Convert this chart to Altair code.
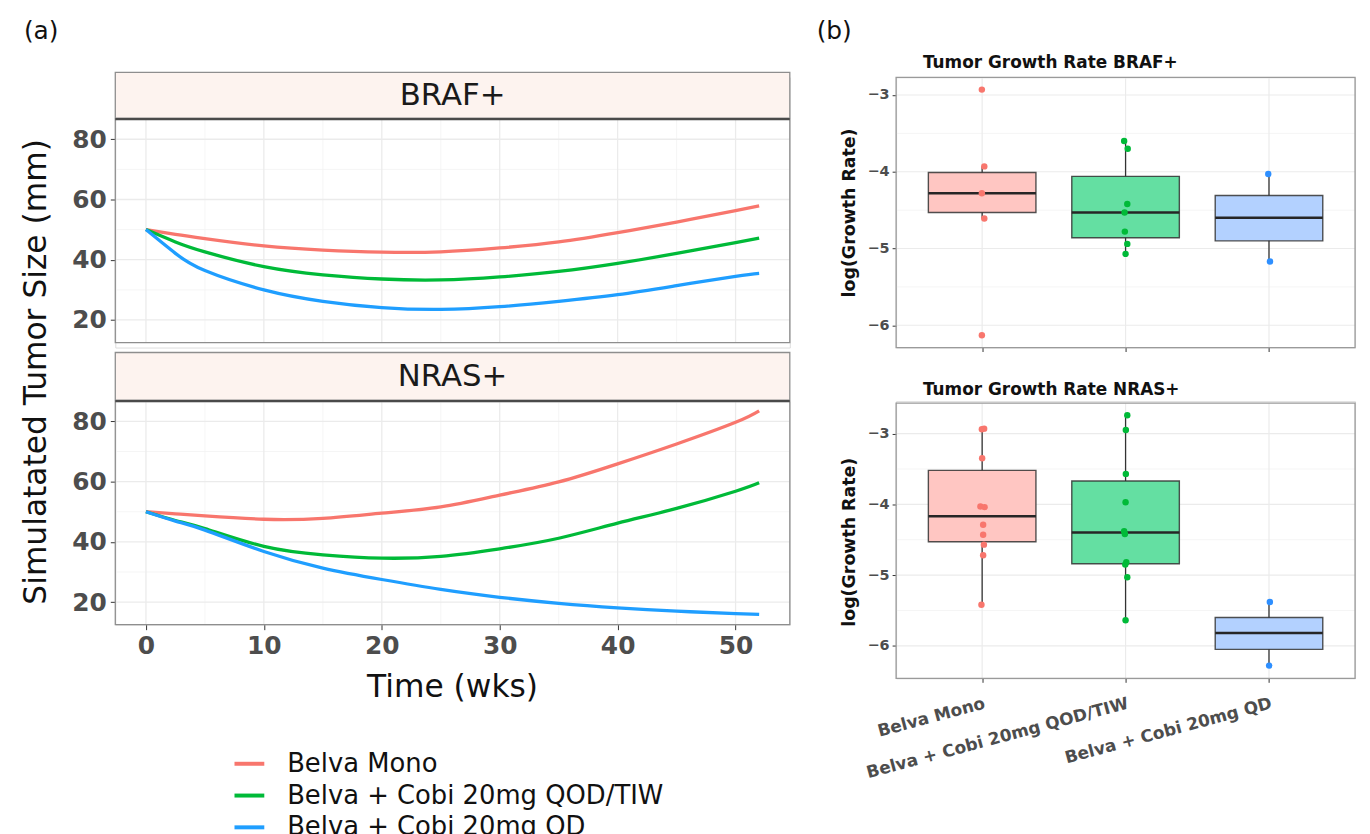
import altair as alt
import pandas as pd

# ---------------- data ----------------
treatments = ["Belva Mono", "Belva + Cobi 20mg QOD/TIW", "Belva + Cobi 20mg QD"]
line_colors = ["#F8766D", "#00BA38", "#1F9EFF"]
point_colors = ["#F8766D", "#00BA38", "#2E8FFF"]
fill_colors = ["#FFC6C2", "#64DFA2", "#B3D1FF"]

weeks = [0, 2.5, 5, 10, 15, 20, 25, 30, 35, 40, 45, 50, 52]
braf_mono = [50.0, 48.4, 47.0, 44.6, 43.2, 42.5, 42.6, 43.9, 45.9, 49.0, 52.5, 56.3, 57.9]
braf_qod = [50.0, 45.9, 42.6, 37.7, 35.0, 33.6, 33.3, 34.3, 36.1, 38.8, 42.1, 45.7, 47.2]
braf_qd = [50.0, 42.1, 36.4, 30.0, 26.2, 24.1, 23.5, 24.4, 26.2, 28.4, 31.4, 34.5, 35.5]
nras_mono = [50.0, 49.3, 48.6, 47.5, 47.8, 49.5, 51.6, 55.5, 59.9, 65.9, 72.5, 79.7, 83.5]
nras_qod = [50.0, 47.1, 44.4, 38.5, 35.7, 34.6, 35.2, 37.7, 41.2, 46.2, 51.1, 56.8, 59.6]
nras_qd = [50.0, 46.9, 43.9, 36.8, 31.3, 27.5, 24.2, 21.6, 19.6, 18.1, 17.0, 16.2, 15.9]

# box plot summaries: [whisker low, Q1, median, Q3, whisker high]
braf_box = {
    "Belva Mono": [-4.61, -4.53, -4.28, -4.01, -3.93],
    "Belva + Cobi 20mg QOD/TIW": [-5.07, -4.86, -4.53, -4.06, -3.60],
    "Belva + Cobi 20mg QD": [-5.17, -4.90, -4.60, -4.31, -4.03],
}
nras_box = {
    "Belva Mono": [-5.42, -4.53, -4.17, -3.52, -2.93],
    "Belva + Cobi 20mg QOD/TIW": [-5.64, -4.84, -4.40, -3.67, -2.74],
    "Belva + Cobi 20mg QD": [-6.28, -6.05, -5.82, -5.60, -5.38],
}
# individual log growth rates and their small horizontal jitter
braf_pts = {
    "Belva Mono": [-2.93, -3.93, -4.28, -4.61, -6.13],
    "Belva + Cobi 20mg QOD/TIW": [-3.60, -3.70, -4.42, -4.53, -4.78, -4.94, -5.07],
    "Belva + Cobi 20mg QD": [-4.03, -5.17],
}
braf_jit = {
    "Belva Mono": [-0.002, 0.015, -0.002, 0.015, -0.002],
    "Belva + Cobi 20mg QOD/TIW": [-0.010, 0.015, 0.012, -0.007, -0.005, 0.012, 0.0],
    "Belva + Cobi 20mg QD": [-0.005, 0.007],
}
nras_pts = {
    "Belva Mono": [-2.93, -2.94, -3.35, -4.03, -4.04, -4.29, -4.43, -4.57, -4.72, -5.42],
    "Belva + Cobi 20mg QOD/TIW": [-2.74, -2.95, -3.57, -3.97, -4.38, -4.42, -4.82, -4.85, -5.03, -5.64],
    "Belva + Cobi 20mg QD": [-5.38, -6.28],
}
nras_jit = {
    "Belva Mono": [0.014, -0.002, 0.0, -0.012, 0.017, 0.007, 0.007, 0.012, 0.007, -0.005],
    "Belva + Cobi 20mg QOD/TIW": [0.012, 0.002, 0.002, 0.0, -0.010, -0.005, 0.005, -0.002, 0.012, 0.0],
    "Belva + Cobi 20mg QD": [0.006, 0.001],
}

time_major = [0, 10, 20, 30, 40, 50]
time_minor = [5, 15, 25, 35, 45]
size_major = [20, 40, 60, 80]
size_minor = [30, 50, 70]
rate_major = [-6, -5, -4, -3]
rate_minor = [-5.5, -4.5, -3.5]

# ---------------- style ----------------
FONT = "DejaVu Sans"
LW, RW = 679, 462
P1H, P1T, P1B = 272, 42, 267
P2H = 225
B1H = 272
B2H, B2T = 279, 2
GRID = "#EBEBEB"
GRID_MINOR = "#F3F3F3"
BORDER = "#8E8E8E"

t_dom = [-2.6, 54.6]
s_dom = [12.5, 86.7]
one = pd.DataFrame({"k": [0]})

LEGEND = alt.Legend(orient="none", legendX=118, legendY=674, title=None,
                    symbolType="stroke", symbolStrokeWidth=4, symbolSize=900,
                    labelFont=FONT, labelFontSize=26, labelColor="#111111",
                    labelOffset=21, rowPadding=2, padding=0, labelLimit=800)


def line_df(series):
    rows = []
    for tr, vals in zip(treatments, series):
        for w, v in zip(weeks, vals):
            rows.append({"t": w, "size": v, "treatment": tr})
    return pd.DataFrame(rows)


def left_panel(series, label, view_h, top, bot, strip_top, strip_bot, show_x, extra):
    xs = alt.Scale(domain=t_dom, nice=False, zero=False)
    ys = alt.Scale(domain=s_dom, range=[bot, top], nice=False, zero=False)
    if show_x:
        xa = alt.Axis(values=time_major, labelFont=FONT, labelFontSize=25, labelFontWeight="bold",
                      labelColor="#4D4D4D", tickColor="#333333", tickSize=5, labelPadding=4,
                      domain=False, grid=False, title=None)
    else:
        xa = None
    ya = alt.Axis(values=size_major, labelFont=FONT, labelFontSize=25, labelFontWeight="bold",
                  labelColor="#4D4D4D", tickColor="#333333", tickSize=5, labelPadding=4,
                  domain=False, grid=False, title=None)
    vmaj = alt.Chart(pd.DataFrame({"v": time_major})).mark_rule(color=GRID, strokeWidth=1.3).encode(
        x=alt.X("v:Q", scale=xs, axis=xa), y=alt.value(top), y2=alt.value(bot))
    vmin = alt.Chart(pd.DataFrame({"v": time_minor})).mark_rule(color=GRID_MINOR, strokeWidth=0.8).encode(
        x=alt.X("v:Q", scale=xs, axis=xa), y=alt.value(top), y2=alt.value(bot))
    hmaj = alt.Chart(pd.DataFrame({"v": size_major})).mark_rule(color=GRID, strokeWidth=1.3).encode(
        y=alt.Y("v:Q", scale=ys, axis=ya), x=alt.value(0), x2=alt.value(LW))
    hmin = alt.Chart(pd.DataFrame({"v": size_minor})).mark_rule(color=GRID_MINOR, strokeWidth=0.8).encode(
        y=alt.Y("v:Q", scale=ys, axis=ya), x=alt.value(0), x2=alt.value(LW))
    lines = alt.Chart(line_df(series)).mark_line(strokeWidth=3.3, interpolate="natural").encode(
        x=alt.X("t:Q", scale=xs, axis=xa),
        y=alt.Y("size:Q", scale=ys, axis=ya),
        color=alt.Color("treatment:N", scale=alt.Scale(domain=treatments, range=line_colors),
                        sort=treatments, legend=LEGEND),
        detail="treatment:N",
    )
    border = alt.Chart(one).mark_rect(fillOpacity=0, stroke=BORDER, strokeWidth=1.3).encode(
        x=alt.value(0), x2=alt.value(LW), y=alt.value(top), y2=alt.value(bot))
    strip = alt.Chart(one).mark_rect(fill="#FDF3EF", stroke=BORDER, strokeWidth=1.3).encode(
        x=alt.value(0), x2=alt.value(LW), y=alt.value(strip_top), y2=alt.value(strip_bot))
    strip_line = alt.Chart(one).mark_rule(color="#4A4A4A", strokeWidth=2.2).encode(
        x=alt.value(0), x2=alt.value(LW), y=alt.value(top))
    strip_text = alt.Chart(pd.DataFrame({"s": [label]})).mark_text(
        font=FONT, fontSize=31, color="#1A1A1A", align="center", baseline="middle").encode(
        x=alt.value(LW / 2), y=alt.value((strip_top + strip_bot) / 2 + 1), text="s:N")
    layers = [vmin, hmin, vmaj, hmaj, lines, border, strip, strip_line, strip_text] + extra
    return alt.layer(*layers).properties(width=LW, height=view_h)


def box_df(box):
    rows = []
    for i, tr in enumerate(treatments):
        wl, q1, md, q3, wh = box[tr]
        rows.append({"idx": i + 1, "lo": i + 1 - 0.375, "hi": i + 1 + 0.375, "wl": wl, "q1": q1,
                     "md": md, "q3": q3, "wh": wh, "fill": fill_colors[i]})
    return pd.DataFrame(rows)


def pts_df(pts, jit):
    rows = []
    for i, tr in enumerate(treatments):
        for v, j in zip(pts[tr], jit[tr]):
            rows.append({"xj": i + 1 + j, "val": v, "pcol": point_colors[i]})
    return pd.DataFrame(rows)


label_expr = " : ".join(
    [f"datum.value == {i + 1} ? '{t}'" for i, t in enumerate(treatments[:-1])] + [f"'{treatments[-1]}'"])


def box_panel(box, pts, jit, title, view_h, top, bot, y_dom, show_labels, title_y, ytitle_y, extra):
    xs = alt.Scale(domain=[0.4, 3.6], nice=False, zero=False)
    ys = alt.Scale(domain=y_dom, range=[bot, top], nice=False, zero=False)
    xa = alt.Axis(values=[1, 2, 3], labels=show_labels, labelExpr=label_expr, labelAngle=345,
                  labelAlign="right", labelBaseline="top", labelFont=FONT, labelFontSize=17,
                  labelFontWeight="bold", labelColor="#4D4D4D", labelPadding=13, labelBound=False,
                  labelOverlap=False, labelFlush=False, labelLimit=500,
                  tickColor="#333333", tickSize=4, domain=False, grid=False, title=None)
    ya = alt.Axis(values=rate_major, labelFont=FONT,
                  labelFontSize=14.5, labelFontWeight="bold",
                  labelColor="#4D4D4D", tickColor="#333333", tickSize=4, labelPadding=3,
                  domain=False, grid=False, title=None)
    vmaj = alt.Chart(pd.DataFrame({"v": [1, 2, 3]})).mark_rule(color=GRID, strokeWidth=1.2).encode(
        x=alt.X("v:Q", scale=xs, axis=xa), y=alt.value(top), y2=alt.value(bot))
    hmaj = alt.Chart(pd.DataFrame({"v": rate_major})).mark_rule(color=GRID, strokeWidth=1.2).encode(
        y=alt.Y("v:Q", scale=ys, axis=ya), x=alt.value(0), x2=alt.value(RW))
    hmin = alt.Chart(pd.DataFrame({"v": rate_minor})).mark_rule(color=GRID_MINOR, strokeWidth=0.8).encode(
        y=alt.Y("v:Q", scale=ys, axis=ya), x=alt.value(0), x2=alt.value(RW))
    bdf = box_df(box)
    whisk = alt.Chart(bdf).mark_rule(color="#333333", strokeWidth=1.3).encode(
        x=alt.X("idx:Q", scale=xs, axis=xa), y=alt.Y("wl:Q", scale=ys, axis=ya), y2="wh:Q")
    boxes = alt.Chart(bdf).mark_rect(stroke="#333333", strokeWidth=1.4, strokeOpacity=0.85).encode(
        x=alt.X("lo:Q", scale=xs, axis=xa), x2="hi:Q",
        y=alt.Y("q1:Q", scale=ys, axis=ya), y2="q3:Q",
        fill=alt.Fill("fill:N", scale=None))
    med = alt.Chart(bdf).mark_rule(color="#262626", strokeWidth=2.5).encode(
        x=alt.X("lo:Q", scale=xs, axis=xa), x2="hi:Q", y=alt.Y("md:Q", scale=ys, axis=ya))
    dots = alt.Chart(pts_df(pts, jit)).mark_circle(size=42, opacity=1).encode(
        x=alt.X("xj:Q", scale=xs, axis=xa), y=alt.Y("val:Q", scale=ys, axis=ya),
        color=alt.Color("pcol:N", scale=None))
    border = alt.Chart(one).mark_rect(fillOpacity=0, stroke="#9A9A9A", strokeWidth=1.3).encode(
        x=alt.value(0), x2=alt.value(RW), y=alt.value(top), y2=alt.value(bot))
    ttl = alt.Chart(pd.DataFrame({"s": [title]})).mark_text(
        font=FONT, fontSize=17, fontWeight="bold", color="#111111", align="left", baseline="middle").encode(
        x=alt.value(27), y=alt.value(title_y), text="s:N")
    ytl = alt.Chart(pd.DataFrame({"s": ["log(Growth Rate)"]})).mark_text(
        font=FONT, fontSize=17.5, fontWeight="bold", color="#111111", align="center",
        baseline="middle", angle=270).encode(
        x=alt.value(-46), y=alt.value(ytitle_y), text="s:N")
    layers = [hmin, vmaj, hmaj, whisk, boxes, med, dots, border, ttl, ytl] + extra
    return alt.layer(*layers).properties(width=RW, height=view_h)


def text_at(s, x, y, size, angle=0, align="left", weight="normal", color="#111111"):
    kw = dict(font=FONT, fontSize=size, color=color, align=align, baseline="middle", fontWeight=weight)
    if angle:
        kw["angle"] = angle
    return alt.Chart(pd.DataFrame({"s": [s]})).mark_text(**kw).encode(
        x=alt.value(x), y=alt.value(y), text="s:N")


p1 = left_panel([braf_mono, braf_qod, braf_qd], "BRAF+", P1H, P1T, P1B, -5, 41, False,
                [text_at("(a)", -92, -47, 25),
                 text_at("Simulatated Tumor Size (mm)", -79, 296.5, 31.5, angle=270, align="center")])
p2 = left_panel([nras_mono, nras_qod, nras_qd], "NRAS+", P2H, 0, P2H, -49, -1, True,
                [text_at("Time (wks)", LW / 2, P2H + 64, 31.5, align="center")])
b1 = box_panel(braf_box, braf_pts, braf_jit, "Tumor Growth Rate BRAF+", B1H, 0, B1H,
               [-6.29, -2.77], False, -14, 136.5,
               [text_at("(b)", -80, -47, 25)])
b2 = box_panel(nras_box, nras_pts, nras_jit, "Tumor Growth Rate NRAS+", B2H, B2T, B2H,
               [-6.46, -2.57], True, -11, 142, [])

chart = alt.concat(p1, b1, p2, b2, columns=2, spacing={"row": 54, "column": 107}, bounds="flush").properties(
    padding={"left": 12, "top": 7, "right": 5, "bottom": 5}
).configure_view(stroke=None).configure(background="white")

chart.save("out.html", embed_options={"renderer": "svg", "actions": False})
